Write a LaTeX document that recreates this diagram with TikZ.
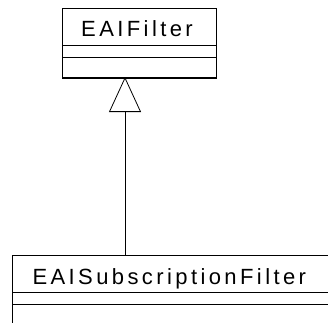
\documentclass[tikz,border=0pt]{standalone}
\usepackage{fontspec}
\setmainfont[LetterSpace=15.5]{Liberation Sans}
\usetikzlibrary{arrows.meta}
\tikzset{
  classbox/.style={draw=black, line width=1pt, inner sep=0pt, anchor=north west},
  classname/.style={anchor=base west, inner sep=0pt, font=\fontsize{22}{24}\selectfont},
  sepline/.style={draw=black, line width=0.8pt},
  inherit/.style={draw=black, line width=0.8pt, -{Triangle[open, length=35pt, width=32pt, line width=0.8pt]}}
}
\begin{document}
\begin{tikzpicture}[x=1pt,y=-1pt]
\useasboundingbox (0,0) rectangle (328,322);
\clip (0,0) rectangle (328,322);
\fill[white] (0,0) rectangle (328,322);
% top class
\node[classbox, minimum width=154pt, minimum height=69pt] (top) at (62,8) {};
\draw[sepline] (62,45.7) -- (216,45.7);
\draw[sepline] (62,57.3) -- (216,57.3);
\draw[line width=1.6pt] (top.south west) -- (top.south east);
\node[classname] (topname) at (81,36.7) {EAIFilter};
% bottom class
\node[classbox, minimum width=340pt, minimum height=90pt] (bot) at (12.3,255) {};
\draw[sepline] (12.3,292.3) -- (340,292.3);
\draw[sepline] (12.3,304) -- (340,304);
\node[classname] (botname) at (32.3,284.3) {EAISubscriptionFilter};
% inheritance
\coordinate (apex) at (125,77);
\coordinate (foot) at (125,255);
\draw[inherit] (foot) -- (apex);
\end{tikzpicture}
\end{document}
